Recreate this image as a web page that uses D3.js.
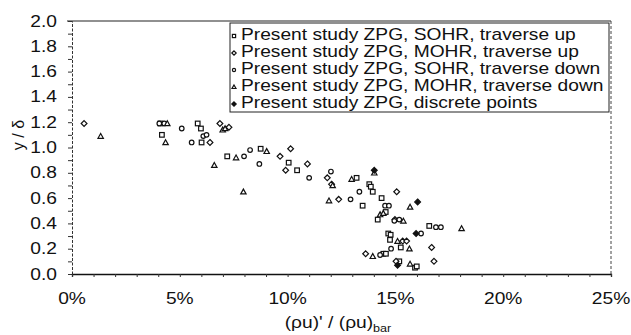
<!DOCTYPE html>
<html><head><meta charset="utf-8">
<script src="https://cdn.jsdelivr.net/npm/d3@7"></script>
<style>body{margin:0;background:#fff}text{font-family:"Liberation Sans",Arial,sans-serif;fill:#111}</style>
</head><body>
<svg id="c" width="631" height="335"></svg>
<script>
// ---- data (x in %, y in y/delta) ----
const xTickValues = [0, 5, 10, 15, 20, 25];
const yTickValues = [0, 0.2, 0.4, 0.6, 0.8, 1.0, 1.2, 1.4, 1.6, 1.8, 2.0];
const seriesNames = [
  "Present study ZPG, SOHR, traverse up",
  "Present study ZPG, MOHR, traverse up",
  "Present study ZPG, SOHR, traverse down",
  "Present study ZPG, MOHR, traverse down",
  "Present study ZPG, discrete points"
];
const sohrUpX = [4.1, 4.17, 5.83, 5.98, 6.01, 7.2, 8.75, 10.05, 10.44, 13.2, 13.48, 13.79, 13.86, 13.95, 14.36, 14.55, 14.18, 14.67, 14.78, 14.75, 14.44, 14.56, 15.25, 16.57, 15.18, 15.91, 15.99];
const sohrUpY = [1.19, 1.10, 1.19, 1.15, 1.04, 0.93, 0.99, 0.88, 0.82, 0.76, 0.54, 0.71, 0.69, 0.65, 0.60, 0.49, 0.43, 0.32, 0.31, 0.27, 0.16, 0.16, 0.21, 0.38, 0.10, 0.05, 0.06];
const mohrUpX = [0.56, 6.4, 6.86, 7.28, 9.65, 10.14, 9.91, 10.92, 11.84, 12.04, 12.37, 15.06, 14.98, 15.34, 15.52, 13.62, 15.03, 16.68, 16.79];
const mohrUpY = [1.19, 1.04, 1.19, 1.16, 0.93, 0.99, 0.82, 0.87, 0.76, 0.71, 0.59, 0.65, 0.43, 0.26, 0.26, 0.16, 0.10, 0.21, 0.10];
const sohrDownX = [4.05, 4.28, 5.09, 5.55, 6.09, 6.24, 7.98, 8.26, 8.69, 11.0, 12.01, 12.92, 13.33, 14.52, 14.7, 15.18, 14.95, 14.8, 14.29, 16.19, 16.88, 17.11];
const sohrDownY = [1.19, 1.19, 1.15, 1.04, 1.09, 1.10, 0.93, 0.98, 0.87, 0.76, 0.81, 0.59, 0.65, 0.54, 0.54, 0.43, 0.42, 0.20, 0.15, 0.32, 0.37, 0.37];
const mohrDownX = [1.33, 4.42, 4.34, 6.6, 6.99, 7.1, 7.61, 9.03, 7.95, 12.09, 11.92, 12.97, 14.02, 14.29, 14.44, 15.37, 15.68, 18.07, 15.1, 15.65, 13.95, 15.68];
const mohrDownY = [1.09, 1.19, 1.04, 0.86, 1.14, 1.15, 0.92, 0.97, 0.65, 0.70, 0.58, 0.75, 0.80, 0.47, 0.48, 0.42, 0.53, 0.36, 0.26, 0.20, 0.14, 0.08];
const discreteX = [14.02, 16.03, 15.96, 15.1];
const discreteY = [0.82, 0.57, 0.32, 0.07];

const series = [
  {name: seriesNames[0], xs: sohrUpX, ys: sohrUpY, shape: "square"},
  {name: seriesNames[1], xs: mohrUpX, ys: mohrUpY, shape: "diamond"},
  {name: seriesNames[2], xs: sohrDownX, ys: sohrDownY, shape: "circle"},
  {name: seriesNames[3], xs: mohrDownX, ys: mohrDownY, shape: "triangle"},
  {name: seriesNames[4], xs: discreteX, ys: discreteY, shape: "fdiamond"}
];

// ---- layout ----
const W = 631, H = 335;
const m = {left: 72, right: 20, top: 21, bottom: 61};
const SX = 1.2; // horizontal stretch of the scanned text
const FS = 16;
const svg = d3.select("#c");
svg.append("rect").attr("width", W).attr("height", H).attr("fill", "#fff");

const x = d3.scaleLinear().domain([0, 25]).range([m.left, W - m.right]);
const y = d3.scaleLinear().domain([0, 2]).range([H - m.bottom, m.top]);

function stext(g, px, py, str, anchor, size) {
  return g.append("g").attr("transform", `translate(${px},${py}) scale(${SX},1)`)
    .append("text").attr("text-anchor", anchor).attr("font-size", size || FS).text(str);
}

// frame: top solid, right dotted
svg.append("line").attr("x1", x(0) - 5).attr("x2", x(25)).attr("y1", y(2)).attr("y2", y(2))
  .attr("stroke", "#222").attr("stroke-width", 1.2);
svg.append("line").attr("x1", x(25)).attr("x2", x(25)).attr("y1", y(2)).attr("y2", y(0))
  .attr("stroke", "#444").attr("stroke-width", 1).attr("stroke-dasharray", "3,2");

// y axis
const yAxis = d3.axisLeft(y).tickValues(d3.range(0, 2.001, 0.1)).tickSize(4).tickFormat("");
const gy = svg.append("g").attr("transform", `translate(${m.left},0)`).call(yAxis);
gy.select(".domain").attr("stroke", "#333").attr("stroke-dasharray", "3,1.5");
gy.selectAll(".tick line").attr("stroke", "#333");
yTickValues.forEach(v => stext(svg, 57, y(v) + 5.5, d3.format(".1f")(v), "end"));

// x axis
const xAxis = d3.axisBottom(x).tickValues(d3.range(0, 25.001, 1)).tickSize(3).tickFormat("");
const gx = svg.append("g").attr("transform", `translate(0,${y(0)})`).call(xAxis);
gx.select(".domain").attr("stroke", "#111").attr("stroke-width", 1.3);
gx.selectAll(".tick line").attr("stroke", "#333");
xTickValues.forEach(v => stext(svg, x(v), 304, v + "%", "middle"));

// axis titles
const xt = svg.append("g").attr("transform", `translate(338,328) scale(${SX},1)`)
  .append("text").attr("text-anchor", "middle").attr("font-size", FS);
xt.append("tspan").text("(ρu)' / (ρu)");
xt.append("tspan").attr("font-size", 10.5).attr("dy", 4).text("bar");
svg.append("text").attr("transform", "translate(24,135) rotate(-90)")
  .attr("text-anchor", "middle").attr("font-size", FS).text("y / δ");

// markers
function marker(g, shape, cx, cy, s) {
  const st = {stroke: "#111", "stroke-width": 1.2};
  let el;
  if (shape === "square") {
    el = g.append("rect").attr("x", cx - s / 2).attr("y", cy - s / 2).attr("width", s).attr("height", s).attr("fill", "#fff");
  } else if (shape === "circle") {
    el = g.append("circle").attr("cx", cx).attr("cy", cy).attr("r", s / 2).attr("fill", "#fff");
  } else if (shape === "triangle") {
    const h = s * 0.95;
    el = g.append("path").attr("d", `M${cx},${cy - h / 2 - 0.5}L${cx + s / 2 + 0.4},${cy + h / 2}L${cx - s / 2 - 0.4},${cy + h / 2}Z`).attr("fill", "#fff");
  } else {
    const r = s / 2 + 0.6;
    el = g.append("path").attr("d", `M${cx},${cy - r}L${cx + r},${cy}L${cx},${cy + r}L${cx - r},${cy}Z`)
      .attr("fill", shape === "fdiamond" ? "#111" : "#fff");
  }
  Object.entries(st).forEach(([k, v]) => el.attr(k, v));
}

const plot = svg.append("g");
series.forEach(sr => {
  sr.xs.forEach((xv, i) => marker(plot, sr.shape, x(xv), y(sr.ys[i]), 4.6));
});

// legend
const lg = svg.append("g");
lg.append("rect").attr("x", 230).attr("y", 23).attr("width", 379).attr("height", 89)
  .attr("fill", "#fff").attr("stroke", "#222").attr("stroke-width", 1);
series.forEach((sr, i) => {
  const by = 39.5 + i * 17;
  marker(lg, sr.shape, 234, by - 3.5, 3.2);
  stext(lg, 241, by, sr.name, "start");
});
</script>
</body></html>
